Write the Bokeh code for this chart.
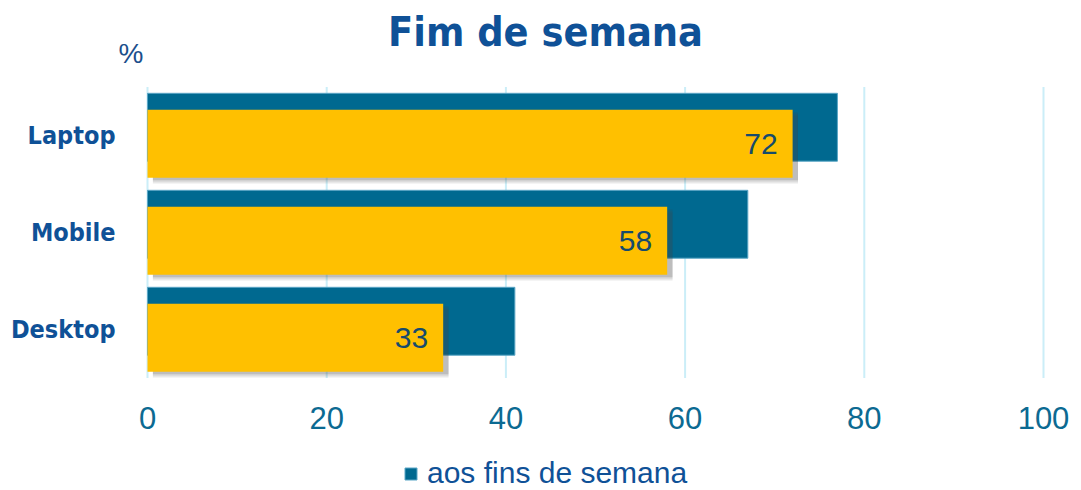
from bokeh.plotting import figure
from bokeh.models import (ColumnDataSource, Range1d, LabelSet, Legend, LegendItem)
from bokeh.core.properties import value
from bokeh.transform import dodge
from bokeh.embed import file_html
from bokeh.resources import INLINE

# ---------------- data ----------------
categories = ["Desktop", "Mobile", "Laptop"]
weekend = [41, 67, 77]          # blue series: "aos fins de semana"
overlay = [33, 58, 72]          # yellow series (labelled values)
x_ticks = [0, 20, 40, 60, 80, 100]
title_text = "Fim de semana"
unit_text = "%"
legend_text = "aos fins de semana"

# ---------------- style / layout ----------------
BLUE = "#006990"
YELLOW = "#FFC000"
NAVY = "#0F5197"
TICK = "#0C6A92"
GRID = "#CBEEF8"
COND = "DejaVu Sans Condensed"
SANS = "Liberation Sans"
W, H = 1081, 490
SX = 8.96      # pixels per percentage point
PX = 97.0      # pixels per category band
X0 = 147       # canvas x of value 0
Y0 = 329       # canvas y (from top) of first category centre

p = figure(width=W, height=H, output_backend="svg", toolbar_location=None,
           x_range=Range1d(-X0 / SX, (W - X0) / SX),
           y_range=Range1d((Y0 - H) / PX, Y0 / PX),
           min_border=0)
p.axis.visible = False
p.grid.visible = False
p.outline_line_color = None
p.background_fill_color = "white"
p.border_fill_color = "white"

idx = list(range(len(categories)))
src = ColumnDataSource(dict(
    y=idx, cat=categories, weekend=weekend, overlay=overlay,
    lbl=[str(v) for v in overlay],
    sh_left=[0.6] * len(overlay),
    sh_right=[v + 0.6 for v in overlay],
))

# vertical grid lines spanning the category bands
lo, hi = -0.5, len(categories) - 0.5
p.segment(x0=x_ticks, y0=[lo] * len(x_ticks), x1=x_ticks, y1=[hi] * len(x_ticks),
          line_color=GRID, line_width=2)

# blue bars
blue = p.hbar(y=dodge("y", 0.085), right="weekend", left=0, height=0.70, source=src,
              fill_color=BLUE, line_color="#5AA6C6", line_width=1)

# soft shadow of the yellow bars
for dy, a in ((0.06, 0.12), (0.04, 0.14), (0.025, 0.14)):
    p.hbar(y=dodge("y", -0.085 - dy), left="sh_left", right="sh_right", height=0.70,
           source=src, fill_color="#444444", fill_alpha=a, line_color=None)

# yellow bars
p.hbar(y=dodge("y", -0.085), right="overlay", left=0, height=0.70, source=src,
       fill_color=YELLOW, line_color=None)

# value labels
p.add_layout(LabelSet(x="overlay", y=dodge("y", -0.085), text="lbl", source=src,
                      x_offset=-15, text_align="right", text_baseline="middle",
                      text_font=value(SANS), text_font_size="30px", text_color="#164B6C"))

# x tick labels
p.text(x=x_ticks, y=[lo - 39.5 / PX] * len(x_ticks), text=[str(t) for t in x_ticks],
       text_align="center", text_baseline="middle", text_font=value(SANS),
       text_font_size="31px", text_color=TICK)

# category labels
p.text(x=[-32 / SX] * len(categories), y=idx, text=categories,
       text_align="right", text_baseline="middle", text_font=value(COND),
       text_font_style="bold", text_font_size="25px", text_color=NAVY)

# unit and title
p.text(x=[-29 / SX], y=[hi + 34 / PX], text=[unit_text], text_align="left",
       text_baseline="middle", text_font=value(SANS), text_font_size="28px",
       text_color="#1B4F8C")
p.text(x=[398 / SX], y=[hi + 55 / PX], text=[title_text], text_align="center",
       text_baseline="middle", text_font=value(COND), text_font_style="bold",
       text_font_size="41px", text_color=NAVY)

# legend
p.add_layout(Legend(items=[LegendItem(label=legend_text, renderers=[blue])],
                    orientation="horizontal", location=(403, 0),
                    label_text_font=SANS, label_text_font_size="30px",
                    label_text_color=NAVY, glyph_width=15, glyph_height=15,
                    label_standoff=9, padding=0, margin=0, spacing=0,
                    border_line_color=None, background_fill_alpha=0))

open("out.html", "w").write(file_html(p, INLINE))
